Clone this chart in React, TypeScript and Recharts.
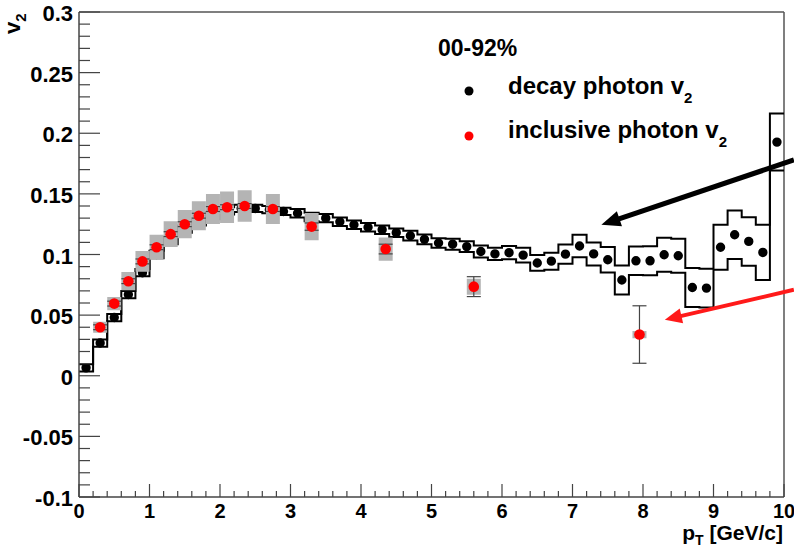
import React from 'react';
import { ComposedChart, Line, Scatter, XAxis, YAxis, ErrorBar, ReferenceLine } from 'recharts';

// decay photon v2 (black), bin centres every 0.2 GeV/c
const decayPt = [
  0.1, 0.3, 0.5, 0.7, 0.9, 1.1, 1.3, 1.5, 1.7, 1.9,
  2.1, 2.3, 2.5, 2.7, 2.9, 3.1, 3.3, 3.5, 3.7, 3.9,
  4.1, 4.3, 4.5, 4.7, 4.9, 5.1, 5.3, 5.5, 5.7, 5.9,
  6.1, 6.3, 6.5, 6.7, 6.9, 7.1, 7.3, 7.5, 7.7, 7.9,
  8.1, 8.3, 8.5, 8.7, 8.9, 9.1, 9.3, 9.5, 9.7, 9.9,
];
const decayV2 = [
  0.0065, 0.027, 0.048, 0.067, 0.085, 0.1, 0.1115, 0.121, 0.127, 0.132,
  0.136, 0.138, 0.138, 0.137, 0.1355, 0.134, 0.131, 0.13, 0.127, 0.1245,
  0.1225, 0.1205, 0.118, 0.1155, 0.1125, 0.1095, 0.1085, 0.1065, 0.1025, 0.1005,
  0.1015, 0.0995, 0.093, 0.0945, 0.1003, 0.107, 0.1005, 0.0957, 0.079, 0.0948,
  0.0948, 0.0998, 0.099, 0.0728, 0.0723, 0.106, 0.1163, 0.1108, 0.1017, 0.1927,
];
const decaySys = [
  0.003, 0.003, 0.003, 0.003, 0.003, 0.003, 0.003, 0.003, 0.003, 0.003,
  0.003, 0.003, 0.003, 0.003, 0.003, 0.0035, 0.0035, 0.0035, 0.0035, 0.0035,
  0.0035, 0.0035, 0.0035, 0.004, 0.004, 0.004, 0.0045, 0.0045, 0.005, 0.005,
  0.0055, 0.006, 0.0065, 0.007, 0.008, 0.0093, 0.0095, 0.0105, 0.012, 0.0117,
  0.012, 0.014, 0.014, 0.016, 0.016, 0.0186, 0.02, 0.02, 0.0228, 0.0235,
];

// inclusive photon v2 (red)
const inclPt = [0.3, 0.5, 0.7, 0.9, 1.1, 1.3, 1.5, 1.7, 1.9, 2.1, 2.35, 2.75, 3.3, 4.35, 5.6, 7.95];
const inclV2 = [0.04, 0.0595, 0.078, 0.0943, 0.106, 0.1168, 0.125, 0.132, 0.1375, 0.139, 0.14, 0.1375, 0.123, 0.1045, 0.0735, 0.034];
const inclSys = [0.0045, 0.0055, 0.0075, 0.0085, 0.0103, 0.0107, 0.0117, 0.012, 0.0124, 0.013, 0.013, 0.0124, 0.0113, 0.0096, 0.0066, 0.003];
const inclStat = [0.002, 0.002, 0.002, 0.002, 0.002, 0.002, 0.002, 0.002, 0.002, 0.002, 0.002, 0.002, 0.003, 0.004, 0.0082, 0.0237];

const yMajor = [-0.1, -0.05, 0, 0.05, 0.1, 0.15, 0.2, 0.25, 0.3];
const yMajorLabels = ['-0.1', '-0.05', '0', '0.05', '0.1', '0.15', '0.2', '0.25', '0.3'];
const xMajor = [0, 1, 2, 3, 4, 5, 6, 7, 8, 9, 10];
const xMajorLabels = ['0', '1', '2', '3', '4', '5', '6', '7', '8', '9', '10'];

// annotation arrows: [pT, v2] start -> tip
const arrows = [
  { from: [10.14, 0.178], to: [7.41, 0.1245], color: '#000000', width: 5, head: 19, half: 8 },
  { from: [10.14, 0.0709], to: [8.31, 0.0462], color: '#ff1a1a', width: 4, head: 17, half: 7.5 },
];

const FONT = "'Liberation Sans', Arial, Helvetica, sans-serif";

const yTicks: number[] = [];
for (let i = -10; i <= 30; i++) yTicks.push(Number((i / 100).toFixed(2)));
const xTicks: number[] = [];
for (let i = 0; i <= 50; i++) xTicks.push(Number((i / 5).toFixed(1)));

const bandData = [
  { pt: 0, hi: decayV2[0] + decaySys[0], lo: decayV2[0] - decaySys[0] },
  ...decayPt.map((pt, i) => ({ pt, hi: decayV2[i] + decaySys[i], lo: decayV2[i] - decaySys[i] })),
  { pt: 10, hi: decayV2[49] + decaySys[49], lo: decayV2[49] - decaySys[49] },
];
// black markers as zero-length round-capped segments, so they stack with the line layers
const decayMarkData = decayPt.flatMap((pt, i) => [
  { pt, m: decayV2[i] },
  { pt, m: decayV2[i] },
  { pt, m: null },
]);
// gray systematic boxes: one thick vertical segment per point, split by nulls
const sysBoxData = inclPt.flatMap((pt, i) => [
  { pt, g: inclV2[i] - inclSys[i] },
  { pt, g: inclV2[i] + inclSys[i] },
  { pt, g: null },
]);
const inclData = inclPt.map((pt, i) => ({ pt, v: inclV2[i], stat: inclStat[i] }));

const YTick = (props: any) => {
  const { x, y, payload } = props;
  const idx = yMajor.findIndex((m) => Math.abs(m - payload.value) < 1e-6);
  const major = idx >= 0;
  return (
    <g>
      <line x1={x} x2={x + (major ? 21 : 11)} y1={y} y2={y} stroke="#444" strokeWidth={1.2} />
      {major && (
        <text x={x - 6} y={y + 9} textAnchor="end" fontFamily={FONT} fontWeight="bold" fontSize={22} fill="#000">
          {yMajorLabels[idx]}
        </text>
      )}
    </g>
  );
};

const XTick = (props: any) => {
  const { x, y, payload } = props;
  const idx = xMajor.findIndex((m) => Math.abs(m - payload.value) < 1e-6);
  const major = idx >= 0;
  return (
    <g>
      <line x1={x} x2={x} y1={y} y2={y - (major ? 13 : 6)} stroke="#444" strokeWidth={1.2} />
      {major && (
        <text x={x} y={y + 21} textAnchor="middle" fontFamily={FONT} fontWeight="bold" fontSize={20} fill="#000">
          {xMajorLabels[idx]}
        </text>
      )}
    </g>
  );
};

const makeArrow = (color: string, w: number, headLen: number, half: number) => (p: any) => {
  const { x1, y1, x2, y2 } = p;
  const dx = x2 - x1;
  const dy = y2 - y1;
  const len = Math.hypot(dx, dy) || 1;
  const ux = dx / len;
  const uy = dy / len;
  const bx = x2 - ux * headLen;
  const by = y2 - uy * headLen;
  const nx = -uy;
  const ny = ux;
  return (
    <g>
      <line x1={x1} y1={y1} x2={bx + ux * 2} y2={by + uy * 2} stroke={color} strokeWidth={w} />
      <polygon
        points={`${x2},${y2} ${bx + nx * half},${by + ny * half} ${bx - nx * half},${by - ny * half}`}
        fill={color}
      />
    </g>
  );
};

const redDot = (p: any) => <circle cx={p.cx} cy={p.cy} r={5.3} fill="#ff0000" />;

export default function App() {
  return (
    <div style={{ position: 'relative', width: 794, height: 549, background: '#fff' }}>
      <style>{`body{margin:0;}`}</style>
      <ComposedChart width={794} height={549} margin={{ top: 12, right: 10, bottom: 0, left: 0 }}>
        <XAxis
          type="number"
          dataKey="pt"
          domain={[0, 10]}
          allowDataOverflow
          ticks={xTicks}
          interval={0}
          tickLine={false}
          tickSize={0}
          tickMargin={0}
          tick={<XTick />}
          height={52}
          axisLine={{ stroke: '#444', strokeWidth: 1.5 }}
        />
        <YAxis
          type="number"
          domain={[-0.1, 0.3]}
          allowDataOverflow
          ticks={yTicks}
          interval={0}
          tickLine={false}
          tickSize={0}
          tickMargin={0}
          tick={<YTick />}
          width={79}
          axisLine={{ stroke: '#444', strokeWidth: 1.5 }}
        />
        <ReferenceLine y={0.3} stroke="#000" strokeWidth={1.2} />
        <ReferenceLine x={10} stroke="#555" strokeWidth={1.5} />

        <Line data={bandData} dataKey="hi" type="step" stroke="#000" strokeWidth={2} dot={false} activeDot={false} isAnimationActive={false} />
        <Line data={bandData} dataKey="lo" type="step" stroke="#000" strokeWidth={2} dot={false} activeDot={false} isAnimationActive={false} />
        <Line
          data={decayMarkData}
          dataKey="m"
          type="linear"
          stroke="#000"
          strokeWidth={9.4}
          strokeLinecap="round"
          connectNulls={false}
          dot={false}
          activeDot={false}
          isAnimationActive={false}
        />
        <Line
          data={sysBoxData}
          dataKey="g"
          type="linear"
          stroke="#b4b4b4"
          strokeWidth={14}
          strokeLinecap="butt"
          connectNulls={false}
          dot={false}
          activeDot={false}
          isAnimationActive={false}
        />

        <Scatter data={inclData} dataKey="v" shape={redDot} isAnimationActive={false}>
          <ErrorBar dataKey="stat" direction="y" width={7} stroke="#444" strokeWidth={1.2} />
        </Scatter>

        {arrows.map((a, i) => (
          <ReferenceLine
            key={`arrow-${i}`}
            segment={[
              { x: a.from[0], y: a.from[1] },
              { x: a.to[0], y: a.to[1] },
            ]}
            ifOverflow="visible"
            shape={makeArrow(a.color, a.width, a.head, a.half)}
          />
        ))}
      </ComposedChart>

      <svg
        width={794}
        height={549}
        style={{ position: 'absolute', left: 0, top: 0, pointerEvents: 'none' }}
        fontFamily={FONT}
        fontWeight="bold"
      >
        <text x={20} y={34} transform="rotate(-90 20 34)" fontSize={22}>
          v<tspan fontSize={15} dy={6}>2</tspan>
        </text>
        <text x={783} y={540} textAnchor="end" fontSize={21}>
          p<tspan fontSize={14} dy={5}>T</tspan>
          <tspan dy={-5}> [GeV/c]</tspan>
        </text>

        <text x={438} y={56} fontSize={23}>00-92%</text>
        <circle cx={469} cy={91} r={4.5} fill="#000" />
        <text x={508} y={94} fontSize={24}>
          decay photon v<tspan fontSize={15} dy={9}>2</tspan>
        </text>
        <circle cx={469} cy={136} r={4.5} fill="#ff0000" />
        <text x={508} y={138} fontSize={24}>
          inclusive photon v<tspan fontSize={15} dy={9}>2</tspan>
        </text>
      </svg>
    </div>
  );
}
